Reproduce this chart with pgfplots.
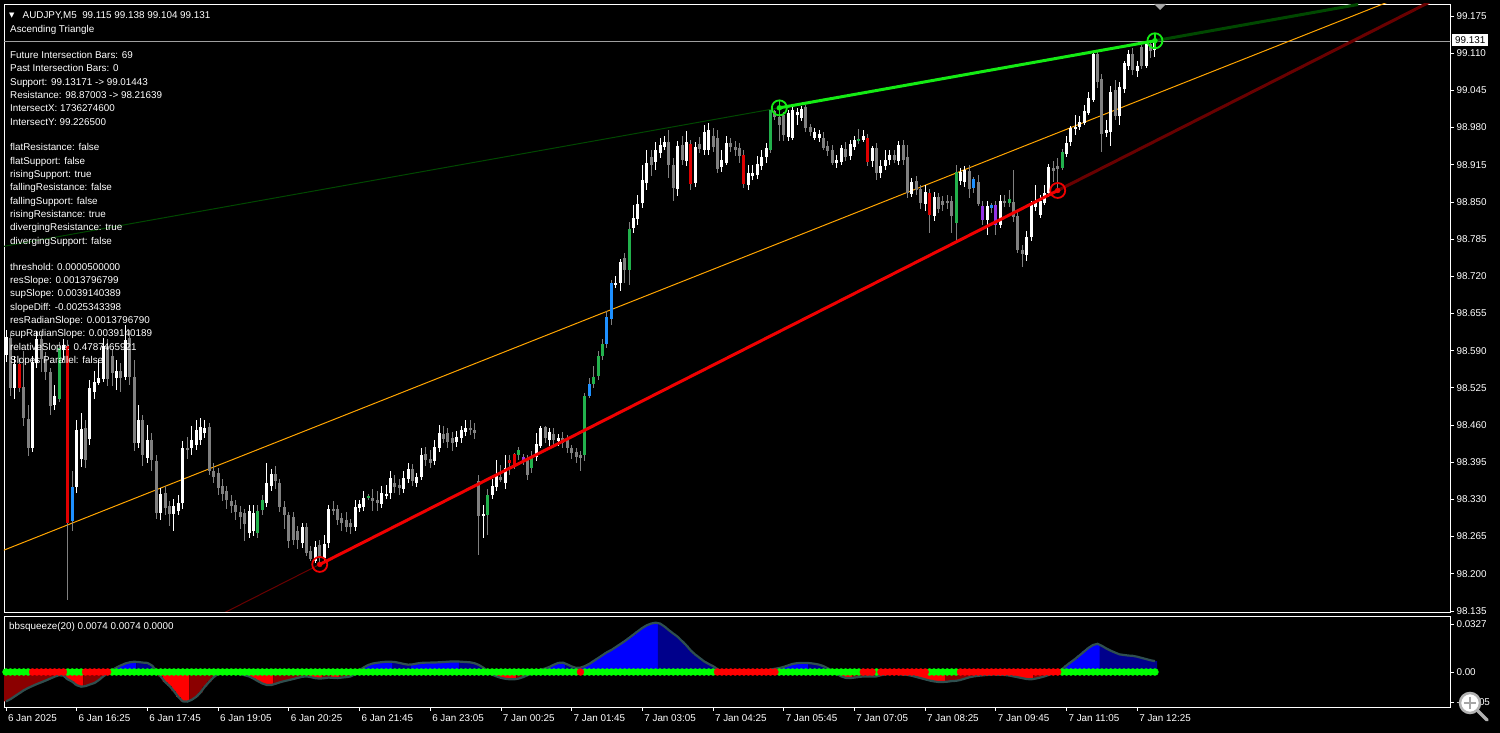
\documentclass[border=0pt]{standalone}
\usepackage{fontspec}
\setmainfont{Liberation Sans}
\newfontfamily\dejavu{DejaVu Sans}
\usepackage{pgfplots}
\usepackage{pgfplotstable}
\pgfplotsset{compat=1.18}

\definecolor{cgray}{RGB}{128,128,128}
\definecolor{cwhite}{RGB}{255,255,255}
\definecolor{cred}{RGB}{224,0,0}
\definecolor{cgreen}{RGB}{34,177,76}
\definecolor{cblue}{RGB}{30,144,255}
\definecolor{cpurple}{RGB}{148,50,230}
\definecolor{resline}{RGB}{20,235,20}
\definecolor{resdark}{RGB}{0,72,0}
\definecolor{supline}{RGB}{240,0,0}
\definecolor{supdark}{RGB}{105,0,0}
\definecolor{midline}{RGB}{255,165,0}
\definecolor{hblue}{RGB}{0,0,255}
\definecolor{hnavy}{RGB}{0,0,139}
\definecolor{hred}{RGB}{255,0,0}
\definecolor{hdred}{RGB}{139,0,0}
\definecolor{hline}{RGB}{47,79,79}
\definecolor{dotg}{RGB}{0,255,0}
\definecolor{dotr}{RGB}{255,0,0}

\newcommand{\mt}{\fontsize{9.9}{12}\selectfont}
\newcommand{\lbl}[3]{\node[anchor=base west,inner sep=0pt,text=white!92,font=\mt] at (#1bp,733bp-#2bp) {#3};}

% i open high low close class (0 gray,1 white,2 red,3 green,4 blue,5 purple)
\pgfplotstableread{
i o h l c k
0 98.582 98.626 98.570 98.614 1
1 98.614 98.621 98.512 98.526 0
2 98.526 98.581 98.507 98.568 1
3 98.568 98.577 98.518 98.526 2
4 98.526 98.591 98.460 98.472 0
5 98.472 98.495 98.406 98.421 0
6 98.421 98.582 98.413 98.570 1
7 98.570 98.626 98.560 98.612 1
8 98.612 98.623 98.553 98.577 0
9 98.577 98.588 98.539 98.553 0
10 98.553 98.560 98.478 98.495 0
11 98.495 98.530 98.486 98.512 1
12 98.507 98.605 98.500 98.595 3
13 98.591 98.612 98.574 98.600 1
14 98.600 98.609 98.154 98.290 2
15 98.292 98.381 98.276 98.352 4
16 98.352 98.469 98.343 98.451 1
17 98.402 98.483 98.388 98.453 1
18 98.455 98.469 98.385 98.399 0
19 98.437 98.539 98.425 98.525 1
20 98.518 98.556 98.507 98.535 1
21 98.535 98.574 98.530 98.544 1
22 98.542 98.612 98.535 98.600 1
23 98.600 98.612 98.530 98.542 0
24 98.582 98.595 98.530 98.551 0
25 98.544 98.574 98.521 98.556 1
26 98.556 98.570 98.518 98.544 0
27 98.544 98.635 98.539 98.609 1
28 98.612 98.626 98.530 98.544 0
29 98.544 98.574 98.416 98.429 0
30 98.429 98.495 98.420 98.469 1
31 98.469 98.478 98.390 98.408 0
32 98.402 98.460 98.395 98.434 1
33 98.434 98.448 98.381 98.399 0
34 98.399 98.408 98.297 98.308 0
35 98.308 98.350 98.294 98.341 1
36 98.341 98.353 98.303 98.315 0
37 98.320 98.329 98.285 98.306 0
38 98.306 98.332 98.276 98.320 1
39 98.311 98.338 98.303 98.324 1
40 98.324 98.434 98.315 98.421 1
41 98.421 98.441 98.402 98.416 0
42 98.420 98.460 98.408 98.434 1
43 98.425 98.469 98.416 98.451 1
44 98.434 98.472 98.425 98.457 1
45 98.448 98.469 98.437 98.457 1
46 98.457 98.465 98.373 98.381 0
47 98.381 98.395 98.360 98.371 0
48 98.376 98.385 98.338 98.350 0
49 98.355 98.367 98.329 98.341 0
50 98.346 98.355 98.315 98.329 0
51 98.329 98.338 98.308 98.320 0
52 98.320 98.329 98.294 98.308 0
53 98.308 98.320 98.280 98.299 0
54 98.308 98.315 98.259 98.289 0
55 98.273 98.320 98.262 98.311 1
56 98.276 98.320 98.266 98.308 1
57 98.273 98.320 98.262 98.311 3
58 98.311 98.338 98.303 98.329 3
59 98.325 98.395 98.318 98.359 1
60 98.355 98.385 98.346 98.376 1
61 98.376 98.390 98.350 98.364 0
62 98.360 98.367 98.308 98.317 0
63 98.317 98.329 98.280 98.303 0
64 98.303 98.308 98.245 98.259 0
65 98.299 98.308 98.250 98.259 0
66 98.276 98.285 98.245 98.259 0
67 98.255 98.290 98.245 98.282 1
68 98.282 98.290 98.231 98.236 0
69 98.241 98.250 98.224 98.227 0
70 98.224 98.259 98.219 98.248 1
71 98.250 98.259 98.220 98.229 0
72 98.229 98.269 98.224 98.254 1
73 98.254 98.320 98.245 98.313 1
74 98.313 98.329 98.303 98.310 0
75 98.313 98.320 98.285 98.294 0
76 98.297 98.308 98.276 98.289 0
77 98.294 98.308 98.273 98.282 0
78 98.289 98.297 98.271 98.282 0
79 98.282 98.329 98.276 98.317 1
80 98.315 98.329 98.308 98.322 1
81 98.318 98.346 98.311 98.334 1
82 98.332 98.339 98.329 98.336 3
83 98.334 98.350 98.311 98.329 0
84 98.329 98.346 98.311 98.324 0
85 98.324 98.353 98.315 98.343 1
86 98.338 98.355 98.332 98.341 1
87 98.341 98.381 98.332 98.367 1
88 98.360 98.373 98.343 98.352 0
89 98.355 98.367 98.338 98.350 0
90 98.350 98.381 98.343 98.369 1
91 98.367 98.395 98.360 98.385 1
92 98.385 98.394 98.355 98.364 0
93 98.360 98.378 98.352 98.369 1
94 98.371 98.420 98.364 98.409 1
95 98.409 98.423 98.390 98.399 0
96 98.402 98.416 98.385 98.395 0
97 98.399 98.434 98.390 98.423 1
98 98.421 98.460 98.413 98.446 1
99 98.446 98.460 98.430 98.437 0
100 98.446 98.455 98.420 98.430 0
101 98.437 98.448 98.416 98.429 0
102 98.430 98.451 98.423 98.439 1
103 98.437 98.460 98.430 98.451 1
104 98.448 98.469 98.441 98.455 1
105 98.455 98.469 98.443 98.451 0
106 98.451 98.465 98.437 98.446 0
107 98.364 98.373 98.233 98.303 0
108 98.303 98.320 98.262 98.304 1
109 98.303 98.350 98.268 98.339 3
110 98.339 98.367 98.332 98.355 1
111 98.352 98.399 98.346 98.371 1
112 98.371 98.390 98.360 98.366 0
113 98.359 98.408 98.350 98.385 1
114 98.399 98.408 98.373 98.394 2
115 98.409 98.413 98.385 98.390 2
116 98.408 98.421 98.399 98.416 3
117 98.404 98.409 98.390 98.395 5
118 98.399 98.408 98.364 98.373 0
119 98.385 98.416 98.378 98.406 3
120 98.404 98.448 98.399 98.427 1
121 98.425 98.460 98.420 98.455 1
122 98.457 98.460 98.430 98.437 0
123 98.434 98.455 98.425 98.448 1
124 98.446 98.455 98.425 98.434 0
125 98.432 98.446 98.425 98.437 1
126 98.437 98.448 98.420 98.429 0
127 98.436 98.443 98.413 98.420 0
128 98.420 98.427 98.402 98.411 0
129 98.413 98.420 98.395 98.404 0
130 98.409 98.416 98.381 98.404 0
131 98.408 98.518 98.399 98.512 3
132 98.512 98.542 98.507 98.533 4
133 98.533 98.565 98.525 98.546 3
134 98.546 98.591 98.539 98.582 3
135 98.582 98.612 98.574 98.603 3
136 98.602 98.661 98.595 98.649 4
137 98.644 98.714 98.635 98.707 4
138 98.705 98.722 98.700 98.708 1
139 98.708 98.752 98.696 98.745 1
140 98.752 98.762 98.710 98.731 0
141 98.731 98.815 98.705 98.804 3
142 98.804 98.845 98.797 98.822 1
143 98.820 98.862 98.810 98.846 1
144 98.848 98.915 98.839 98.888 1
145 98.885 98.941 98.871 98.920 1
146 98.929 98.941 98.897 98.915 0
147 98.920 98.955 98.906 98.941 1
148 98.936 98.962 98.927 98.950 1
149 98.946 98.967 98.941 98.955 1
150 98.955 98.976 98.892 98.915 0
151 98.915 98.927 98.853 98.874 0
152 98.874 98.958 98.862 98.950 1
153 98.950 98.967 98.915 98.923 0
154 98.923 98.976 98.915 98.955 1
155 98.953 98.958 98.871 98.883 2
156 98.883 98.955 98.876 98.946 1
157 98.953 98.965 98.937 98.944 0
158 98.941 98.984 98.932 98.972 1
159 98.941 98.988 98.932 98.976 1
160 98.965 98.979 98.937 98.946 0
161 98.963 98.976 98.902 98.909 0
162 98.911 98.941 98.902 98.923 1
163 98.920 98.967 98.915 98.955 1
164 98.953 98.962 98.937 98.946 0
165 98.946 98.958 98.932 98.941 0
166 98.946 98.955 98.920 98.932 0
167 98.934 98.941 98.874 98.883 2
168 98.881 98.915 98.871 98.901 1
169 98.897 98.915 98.888 98.902 1
170 98.899 98.932 98.892 98.918 1
171 98.915 98.941 98.906 98.930 1
172 98.929 98.955 98.920 98.944 1
173 98.941 99.012 98.937 99.011 3
174 99.010 99.012 98.993 98.999 0
175 98.999 99.014 98.958 98.985 0
176 99.002 99.008 98.958 98.967 0
177 98.963 99.012 98.958 99.005 1
178 98.963 99.016 98.958 99.012 1
179 99.002 99.014 98.985 99.007 1
180 98.999 99.019 98.993 99.014 1
181 99.016 99.020 98.972 98.979 0
182 98.981 98.986 98.965 98.972 0
183 98.963 98.979 98.958 98.972 1
184 98.962 98.976 98.955 98.970 1
185 98.963 98.972 98.941 98.946 0
186 98.948 98.958 98.932 98.939 0
187 98.941 98.950 98.915 98.918 0
188 98.918 98.932 98.909 98.923 1
189 98.920 98.950 98.915 98.944 1
190 98.944 98.955 98.923 98.930 0
191 98.929 98.958 98.923 98.950 1
192 98.946 98.967 98.941 98.958 1
193 98.957 98.979 98.953 98.960 3
194 98.960 98.976 98.955 98.967 1
195 98.963 98.970 98.915 98.922 2
196 98.922 98.950 98.913 98.946 1
197 98.946 98.953 98.888 98.902 0
198 98.902 98.923 98.892 98.915 1
199 98.913 98.941 98.906 98.925 1
200 98.923 98.941 98.915 98.932 1
201 98.932 98.941 98.918 98.923 0
202 98.923 98.958 98.916 98.951 1
203 98.950 98.958 98.915 98.923 0
204 98.930 98.950 98.857 98.866 0
205 98.866 98.892 98.859 98.887 1
206 98.887 98.895 98.862 98.871 0
207 98.873 98.880 98.839 98.848 0
208 98.848 98.880 98.836 98.869 1
209 98.866 98.874 98.797 98.827 2
210 98.827 98.867 98.818 98.859 1
211 98.859 98.867 98.831 98.839 0
212 98.853 98.862 98.836 98.845 0
213 98.853 98.862 98.839 98.848 0
214 98.853 98.862 98.797 98.827 0
215 98.813 98.915 98.783 98.902 3
216 98.887 98.909 98.880 98.902 1
217 98.885 98.915 98.878 98.906 1
218 98.904 98.915 98.857 98.873 0
219 98.874 98.895 98.867 98.890 4
220 98.887 98.897 98.843 98.848 0
221 98.845 98.853 98.810 98.820 5
222 98.820 98.853 98.792 98.845 1
223 98.839 98.850 98.832 98.845 4
224 98.845 98.853 98.792 98.810 5
225 98.810 98.862 98.804 98.853 1
226 98.853 98.862 98.841 98.848 0
227 98.848 98.871 98.843 98.855 3
228 98.850 98.906 98.815 98.825 0
229 98.827 98.836 98.762 98.768 0
230 98.766 98.775 98.736 98.759 0
231 98.759 98.801 98.748 98.790 1
232 98.790 98.853 98.783 98.845 1
233 98.841 98.880 98.836 98.850 1
234 98.829 98.862 98.822 98.853 1
235 98.850 98.880 98.845 98.866 1
236 98.866 98.918 98.860 98.911 1
237 98.911 98.923 98.885 98.906 0
238 98.913 98.927 98.870 98.909 0
239 98.909 98.944 98.906 98.937 3
240 98.936 98.967 98.930 98.955 1
241 98.955 98.984 98.948 98.979 1
242 98.978 99.002 98.967 98.981 1
243 98.981 99.002 98.976 98.990 1
244 98.990 99.020 98.985 99.011 1
245 99.007 99.042 99.002 99.033 1
246 99.030 99.112 99.025 99.110 1
247 99.110 99.114 99.049 99.060 0
248 99.065 99.074 98.937 98.970 0
249 98.972 98.993 98.963 98.976 1
250 98.974 99.054 98.950 99.044 1
251 99.047 99.063 98.993 99.002 0
252 99.000 99.060 98.985 99.051 1
253 99.049 99.098 99.042 99.093 1
254 99.089 99.116 99.081 99.110 1
255 99.110 99.119 99.072 99.082 0
256 99.079 99.098 99.070 99.089 1
257 99.121 99.126 99.084 99.089 0
258 99.089 99.128 99.084 99.127 1
259 99.127 99.130 99.102 99.115 0
260 99.115 99.138 99.104 99.131 1
}\candles

% i value histclass(1 blue,2 navy,3 red,4 darkred) dot(1 green,0 red)
\pgfplotstableread{
i v q d
0 -0.0200 4 1
1 -0.0185 4 1
2 -0.0165 4 1
3 -0.0145 4 1
4 -0.0125 4 1
5 -0.0109 4 1
6 -0.0095 4 0
7 -0.0082 4 0
8 -0.0070 4 0
9 -0.0058 4 0
10 -0.0045 4 0
11 -0.0032 4 0
12 -0.0022 4 0
13 -0.0025 3 0
14 -0.0050 3 1
15 -0.0066 3 1
16 -0.0090 3 1
17 -0.0100 3 1
18 -0.0096 4 0
19 -0.0085 4 0
20 -0.0075 4 0
21 -0.0055 4 0
22 -0.0030 4 0
23 -0.0008 4 0
24 0.0012 1 1
25 0.0030 1 1
26 0.0045 1 1
27 0.0058 1 1
28 0.0066 1 1
29 0.0070 1 1
30 0.0068 2 1
31 0.0064 2 1
32 0.0062 2 1
33 0.0045 2 1
34 0.0010 2 1
35 -0.0030 3 1
36 -0.0068 3 1
37 -0.0095 3 1
38 -0.0130 3 1
39 -0.0170 3 1
40 -0.0200 3 1
41 -0.0202 3 1
42 -0.0190 4 1
43 -0.0170 4 1
44 -0.0140 4 1
45 -0.0100 4 1
46 -0.0066 4 1
47 -0.0035 4 1
48 -0.0012 4 1
49 -0.0005 4 1
50 -0.0003 4 1
51 -0.0005 3 1
52 -0.0010 3 1
53 -0.0015 3 1
54 -0.0022 3 1
55 -0.0030 3 1
56 -0.0045 3 1
57 -0.0062 3 1
58 -0.0078 3 1
59 -0.0088 3 1
60 -0.0089 3 1
61 -0.0080 4 1
62 -0.0070 4 1
63 -0.0062 4 1
64 -0.0055 4 1
65 -0.0048 4 1
66 -0.0040 4 1
67 -0.0033 4 1
68 -0.0030 4 1
69 -0.0035 3 1
70 -0.0042 3 1
71 -0.0045 3 1
72 -0.0042 4 1
73 -0.0038 4 1
74 -0.0040 3 1
75 -0.0042 3 1
76 -0.0038 4 1
77 -0.0035 4 1
78 -0.0030 4 1
79 -0.0015 4 1
80 0.0010 1 1
81 0.0032 1 1
82 0.0048 1 1
83 0.0058 1 1
84 0.0063 1 1
85 0.0067 1 1
86 0.0070 1 1
87 0.0070 1 1
88 0.0068 2 1
89 0.0062 2 1
90 0.0055 2 1
91 0.0050 2 1
92 0.0052 1 1
93 0.0058 1 1
94 0.0062 1 1
95 0.0064 1 1
96 0.0064 1 1
97 0.0065 1 1
98 0.0066 1 1
99 0.0068 1 1
100 0.0070 1 1
101 0.0072 1 1
102 0.0072 1 1
103 0.0070 2 1
104 0.0068 2 1
105 0.0066 2 1
106 0.0060 2 1
107 0.0048 2 1
108 0.0030 2 1
109 0.0005 2 1
110 -0.0018 3 1
111 -0.0030 3 1
112 -0.0040 3 1
113 -0.0046 3 1
114 -0.0050 3 1
115 -0.0050 3 1
116 -0.0045 4 1
117 -0.0035 4 1
118 -0.0022 4 1
119 -0.0010 4 1
120 0.0005 1 1
121 0.0015 1 1
122 0.0024 1 1
123 0.0035 1 1
124 0.0050 1 1
125 0.0062 1 1
126 0.0064 1 1
127 0.0052 2 1
128 0.0038 2 1
129 0.0028 2 1
130 0.0030 1 0
131 0.0040 1 1
132 0.0055 1 1
133 0.0075 1 1
134 0.0095 1 1
135 0.0115 1 1
136 0.0135 1 1
137 0.0150 1 1
138 0.0170 1 1
139 0.0190 1 1
140 0.0210 1 1
141 0.0232 1 1
142 0.0255 1 1
143 0.0278 1 1
144 0.0300 1 1
145 0.0318 1 1
146 0.0330 1 1
147 0.0336 1 1
148 0.0330 2 1
149 0.0310 2 1
150 0.0285 2 1
151 0.0262 2 1
152 0.0240 2 1
153 0.0210 2 1
154 0.0180 2 1
155 0.0145 2 1
156 0.0118 2 1
157 0.0095 2 1
158 0.0072 2 1
159 0.0055 2 1
160 0.0040 2 1
161 0.0020 2 0
162 0.0002 2 0
163 -0.0008 3 0
164 -0.0012 3 0
165 -0.0010 4 0
166 -0.0008 4 0
167 -0.0007 4 0
168 -0.0006 4 0
169 -0.0003 4 0
170 0.0000 1 0
171 0.0005 1 0
172 0.0010 1 0
173 0.0016 1 0
174 0.0022 1 0
175 0.0027 1 1
176 0.0035 1 1
177 0.0045 1 1
178 0.0055 1 1
179 0.0060 1 1
180 0.0062 1 1
181 0.0062 1 1
182 0.0060 2 1
183 0.0056 2 1
184 0.0050 2 1
185 0.0040 2 1
186 0.0025 2 1
187 0.0008 2 1
188 -0.0010 3 1
189 -0.0030 3 1
190 -0.0040 3 1
191 -0.0042 3 1
192 -0.0038 4 1
193 -0.0034 4 1
194 -0.0030 4 0
195 -0.0030 3 0
196 -0.0031 3 0
197 -0.0030 4 1
198 -0.0022 4 0
199 -0.0016 4 0
200 -0.0014 4 0
201 -0.0013 4 0
202 -0.0015 3 0
203 -0.0018 3 0
204 -0.0020 3 0
205 -0.0026 3 0
206 -0.0034 3 0
207 -0.0042 3 0
208 -0.0050 3 0
209 -0.0058 3 1
210 -0.0064 3 1
211 -0.0068 3 1
212 -0.0068 3 1
213 -0.0066 4 1
214 -0.0062 4 1
215 -0.0060 4 1
216 -0.0054 4 0
217 -0.0045 4 0
218 -0.0036 4 0
219 -0.0030 4 0
220 -0.0026 4 0
221 -0.0023 4 0
222 -0.0020 4 0
223 -0.0018 4 0
224 -0.0018 4 0
225 -0.0019 3 0
226 -0.0020 3 0
227 -0.0024 3 0
228 -0.0030 3 0
229 -0.0036 3 0
230 -0.0042 3 0
231 -0.0048 3 0
232 -0.0050 3 0
233 -0.0045 4 0
234 -0.0038 4 0
235 -0.0030 4 0
236 -0.0020 4 0
237 -0.0010 4 0
238 0.0000 4 0
239 0.0020 1 1
240 0.0045 1 1
241 0.0068 1 1
242 0.0090 1 1
243 0.0115 1 1
244 0.0140 1 1
245 0.0165 1 1
246 0.0184 1 1
247 0.0192 1 1
248 0.0178 2 1
249 0.0160 2 1
250 0.0145 2 1
251 0.0132 2 1
252 0.0120 2 1
253 0.0116 2 1
254 0.0112 2 1
255 0.0110 2 1
256 0.0104 2 1
257 0.0096 2 1
258 0.0088 2 1
259 0.0080 2 1
260 0.0074 2 1
}\hist

\pgfplotsset{
  wick/.style={draw=none, mark=none, forget plot,
    error bars/y dir=both, error bars/y explicit, error bars/error mark=none,
    error bars/error bar style={draw=#1, line width=1bp}},
  body/.style={draw=none, mark=none, forget plot,
    error bars/y dir=both, error bars/y explicit, error bars/error mark=none,
    error bars/error bar style={draw=#1, line width=3bp}},
  hbar/.style={ybar, bar width=1.02, bar shift=0pt, fill=#1, draw=none, forget plot},
}

\begin{document}
\begin{tikzpicture}
\useasboundingbox (0,0) rectangle (1500bp,733bp);
\fill[black] (0,0) rectangle (1500bp,733bp);

\begin{axis}[
  at={(4bp,121bp)}, anchor=south west, scale only axis,
  width=1446bp, height=608bp,
  xmin=-0.4526, xmax=326.77, ymin=98.1332, ymax=99.196,
  axis line style={white, line width=0.8bp},
  xtick=\empty,
  ytick={98.135,98.2,98.265,98.33,98.395,98.46,98.525,98.59,98.655,98.72,98.785,98.85,98.915,98.98,99.045,99.11,99.175},
  scaled y ticks=false,
  ytick pos=right, tick align=outside, major tick length=4bp,
  tick style={white!80, line width=0.8bp},
  yticklabel style={font=\mt, text=white!88, anchor=west, xshift=-1bp,
    /pgf/number format/.cd, fixed, fixed zerofill, precision=3, assume math mode=true},
]
% bid line
\addplot[gray!75, line width=0.8bp, forget plot] coordinates {(-1,99.131) (330,99.131)};
% trend line extensions
\addplot[resdark, line width=1bp] coordinates {(-1,98.77162) (175,99.01443)};
\addplot[resdark, line width=3bp] coordinates {(260,99.13171) (306,99.19518)};
\addplot[supdark, line width=1bp] coordinates {(40,98.09505) (71,98.21639)};
\addplot[supdark, line width=3bp] coordinates {(238,98.87003) (322,99.19880)};
\addplot[midline, line width=1bp] coordinates {(-1,98.2397) (315,99.2064)};
% candles: wicks
\addplot[wick=cgray, restrict expr to domain={\thisrow{k}==1}{0:0}]
  table[x=i, y expr={(\thisrow{h}+\thisrow{l})/2}, y error expr={(\thisrow{h}-\thisrow{l})/2}] {\candles};
\addplot[wick=white!85, restrict expr to domain={\thisrow{k}}{1:1}]
  table[x=i, y expr={(\thisrow{h}+\thisrow{l})/2}, y error expr={(\thisrow{h}-\thisrow{l})/2}] {\candles};
% candles: bodies
\addplot[body=cgray, restrict expr to domain={\thisrow{k}}{0:0}]
  table[x=i, y expr={(\thisrow{o}+\thisrow{c})/2}, y error expr={max(abs(\thisrow{c}-\thisrow{o})/2,0.0008)}] {\candles};
\addplot[body=cwhite, restrict expr to domain={\thisrow{k}}{1:1}]
  table[x=i, y expr={(\thisrow{o}+\thisrow{c})/2}, y error expr={max(abs(\thisrow{c}-\thisrow{o})/2,0.0008)}] {\candles};
\addplot[body=cred, restrict expr to domain={\thisrow{k}}{2:2}]
  table[x=i, y expr={(\thisrow{o}+\thisrow{c})/2}, y error expr={max(abs(\thisrow{c}-\thisrow{o})/2,0.0008)}] {\candles};
\addplot[body=cgreen, restrict expr to domain={\thisrow{k}}{3:3}]
  table[x=i, y expr={(\thisrow{o}+\thisrow{c})/2}, y error expr={max(abs(\thisrow{c}-\thisrow{o})/2,0.0008)}] {\candles};
\addplot[body=cblue, restrict expr to domain={\thisrow{k}}{4:4}]
  table[x=i, y expr={(\thisrow{o}+\thisrow{c})/2}, y error expr={max(abs(\thisrow{c}-\thisrow{o})/2,0.0008)}] {\candles};
\addplot[body=cpurple, restrict expr to domain={\thisrow{k}}{5:5}]
  table[x=i, y expr={(\thisrow{o}+\thisrow{c})/2}, y error expr={max(abs(\thisrow{c}-\thisrow{o})/2,0.0008)}] {\candles};
% main trend lines
\addplot[resline, line width=3bp] coordinates {(175,99.01443) (260,99.13171)};
\addplot[supline, line width=3bp] coordinates {(71,98.21639) (238,98.87003)};
% touch points
\addplot[only marks, mark=o, mark size=7.5bp, resline, mark options={line width=1.8bp}] coordinates {(175,99.01443) (260,99.13171)};
\addplot[only marks, mark=|, mark size=7.5bp, resline, mark options={line width=1.5bp}] coordinates {(175,99.01443) (260,99.13171)};
\addplot[only marks, mark=*, mark size=2.5bp, resline] coordinates {(175,99.01443) (260,99.13171)};
\addplot[only marks, mark=o, mark size=7.5bp, supline, mark options={line width=1.8bp}] coordinates {(71,98.21639) (238,98.87003)};
\addplot[only marks, mark=*, mark size=2.5bp, supline] coordinates {(71,98.21639) (238,98.87003)};
\end{axis}

\begin{axis}[
  at={(4bp,26bp)}, anchor=south west, scale only axis,
  width=1446bp, height=91bp,
  xmin=-0.4526, xmax=326.77, ymin=-0.02384, ymax=0.03815,
  axis line style={white, line width=0.8bp},
  ytick={-0.0205,0,0.0327}, yticklabels={-0.0205,0.00,0.0327},
  scaled y ticks=false, scaled x ticks=false,
  ytick pos=right, xtick pos=bottom, tick align=outside, major tick length=4bp,
  tick style={white!80, line width=0.8bp},
  yticklabel style={font=\mt, text=white!88, anchor=west, xshift=-1bp},
  xtick={0,16,...,256},
  xticklabels={6 Jan 2025,6 Jan 16:25,6 Jan 17:45,6 Jan 19:05,6 Jan 20:25,6 Jan 21:45,6 Jan 23:05,7 Jan 00:25,7 Jan 01:45,7 Jan 03:05,7 Jan 04:25,7 Jan 05:45,7 Jan 07:05,7 Jan 08:25,7 Jan 09:45,7 Jan 11:05,7 Jan 12:25},
  xticklabel style={font=\mt, text=white!88, anchor=north west, xshift=-1.5bp},
]
\addplot[hbar=hblue, restrict expr to domain={\thisrow{q}}{1:1}] table[x=i, y=v] {\hist};
\addplot[hbar=hnavy, restrict expr to domain={\thisrow{q}}{2:2}] table[x=i, y=v] {\hist};
\addplot[hbar=hred, restrict expr to domain={\thisrow{q}}{3:3}] table[x=i, y=v] {\hist};
\addplot[hbar=hdred, restrict expr to domain={\thisrow{q}}{4:4}] table[x=i, y=v] {\hist};
\addplot[hline, line width=2.2bp, mark=none] table[x=i, y=v] {\hist};
\addplot[only marks, mark=*, mark size=3.5bp, dotg, restrict expr to domain={\thisrow{d}}{1:1}] table[x=i, y expr=0] {\hist};
\addplot[only marks, mark=*, mark size=3.5bp, dotr, restrict expr to domain={\thisrow{d}}{0:0}] table[x=i, y expr=0] {\hist};
\end{axis}

% header and indicator texts
\node[anchor=base west,inner sep=0pt,text=white!92,font=\dejavu\fontsize{7}{8}\selectfont] at (9bp,733bp-18bp) {▼};
\lbl{22.5}{18.3}{AUDJPY,M5\ \ 99.115 99.138 99.104 99.131}
\lbl{10}{32.6}{Ascending Triangle}
\lbl{10}{58.6}{Future Intersection Bars: 69}
\lbl{10}{71.9}{Past Intersection Bars: 0}
\lbl{10}{85.3}{Support: 99.13171 -> 99.01443}
\lbl{10}{98.6}{Resistance: 98.87003 -> 98.21639}
\lbl{10}{111.9}{IntersectX: 1736274600}
\lbl{10}{125.2}{IntersectY: 99.226500}
\lbl{10}{150.9}{flatResistance: false}
\lbl{10}{164.2}{flatSupport: false}
\lbl{10}{177.6}{risingSupport: true}
\lbl{10}{190.9}{fallingResistance: false}
\lbl{10}{204.2}{fallingSupport: false}
\lbl{10}{217.5}{risingResistance: true}
\lbl{10}{230.8}{divergingResistance: true}
\lbl{10}{244.2}{divergingSupport: false}
\lbl{10}{270.3}{threshold: 0.0000500000}
\lbl{10}{283.6}{resSlope: 0.0013796799}
\lbl{10}{296.9}{supSlope: 0.0039140389}
\lbl{10}{310.3}{slopeDiff: -0.0025343398}
\lbl{10}{323.6}{resRadianSlope: 0.0013796790}
\lbl{10}{336.9}{supRadianSlope: 0.0039140189}
\lbl{10}{350.2}{relativeSlope: 0.4787465921}
\lbl{10}{363.5}{Slopes Parallel: false}
\lbl{9}{629.6}{bbsqueeze(20) 0.0074 0.0074 0.0000}

% current price box
\node[anchor=west, fill=white, text=black, inner xsep=3bp, inner ysep=2.5bp, font=\mt] at (1452bp,733bp-40.5bp) {99.131};
% chart shift marker
\fill[gray!70] (1154bp,733bp-4bp) -- (1166bp,733bp-4bp) -- (1160bp,733bp-10bp) -- cycle;
% magnifier icon
\draw[gray!60, line width=3.5bp, line cap=round] (1478bp,733bp-711bp) -- (1487bp,733bp-720bp);
\draw[gray!60, line width=2.5bp, fill=white!92] (1470bp,733bp-703bp) circle (10bp);
\draw[gray!70, line width=2.2bp] (1464bp,733bp-703bp) -- (1476bp,733bp-703bp) (1470bp,733bp-697bp) -- (1470bp,733bp-709bp);
\end{tikzpicture}
\end{document}
